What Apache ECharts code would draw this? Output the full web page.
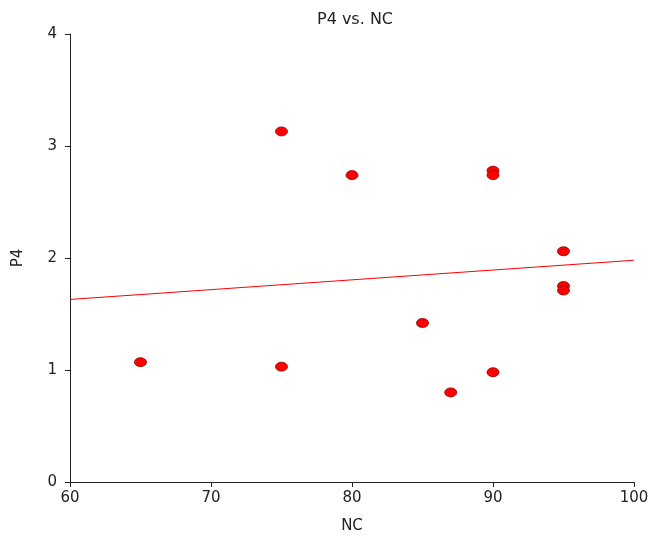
<!DOCTYPE html>
<html><head><meta charset="utf-8">
<script src="https://cdn.jsdelivr.net/npm/echarts@6/dist/echarts.min.js"></script>
<style>html,body{margin:0;padding:0;background:#fff;overflow:hidden}#c{width:651px;height:537px}</style>
</head><body><div id="c"></div>
<script>
const nc = [65, 75, 75, 80, 85, 87, 90, 90, 90, 95, 95, 95];
const p4 = [1.07, 3.13, 1.03, 2.74, 1.42, 0.80, 2.78, 2.74, 0.98, 2.06, 1.75, 1.71];
const fitX = [60, 100];
const fitY = [1.63, 1.98];
const font = 'DejaVu Sans, Verdana, sans-serif';
const chart = echarts.init(document.getElementById('c'));
chart.setOption({
  animation: false,
  backgroundColor: '#fff',
  title: { text: 'P4 vs. NC', left: 350, top: 7, textAlign: 'center',
    textStyle: { fontFamily: font, fontSize: 16, fontWeight: 'normal', color: '#222' } },
  grid: { left: 70, right: 17, top: 34, bottom: 55, containLabel: false, outerBoundsMode: 'none' },
  xAxis: { type: 'value', min: 60, max: 100, interval: 10, name: 'NC', nameLocation: 'middle', nameGap: 37,
    nameTextStyle: { fontFamily: font, fontSize: 15, color: '#222' },
    axisLine: { lineStyle: { color: '#222', width: 1 } },
    axisTick: { show: true, length: 5, lineStyle: { color: '#222' } },
    axisLabel: { fontFamily: font, fontSize: 15, color: '#222', margin: 9 },
    splitLine: { show: false } },
  yAxis: { type: 'value', min: 0, max: 4, interval: 1, name: 'P4', nameLocation: 'middle', nameGap: 44,
    nameTextStyle: { fontFamily: font, fontSize: 15, color: '#222' },
    axisLine: { show: true, lineStyle: { color: '#222', width: 1 } },
    axisTick: { show: true, length: 5, lineStyle: { color: '#222' } },
    axisLabel: { fontFamily: font, fontSize: 15, color: '#222', margin: 13 },
    splitLine: { show: false } },
  series: [
    { type: 'line', data: fitX.map((x, i) => [x, fitY[i]]), symbol: 'none', silent: true,
      lineStyle: { color: '#ff0000', width: 1 }, z: 1 },
    { type: 'scatter', data: nc.map((x, i) => [x, p4[i]]), symbol: 'circle', symbolSize: [12, 9],
      itemStyle: { color: '#ff0000', borderColor: '#8b0000', borderWidth: 0.8, opacity: 1 }, z: 2 }
  ]
});
</script></body></html>
